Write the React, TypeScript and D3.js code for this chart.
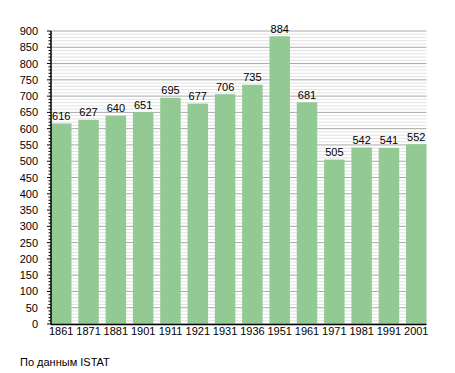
import React from "react";
import * as d3 from "d3";

const years = ["1861","1871","1881","1901","1911","1921","1931","1936","1951","1961","1971","1981","1991","2001"];
const population = [616,627,640,651,695,677,706,735,884,681,505,542,541,552];
const yTicks = [0,50,100,150,200,250,300,350,400,450,500,550,600,650,700,750,800,850,900];
const footer = "По данным  ISTAT";

export default function App() {
  const W = 455, H = 373;
  const left = 51, right = 426.5, top = 31, bottom = 324;
  const x = d3.scaleBand<string>().domain(years).range([left, right]).paddingInner(0.25).paddingOuter(0).align(0);
  const y = d3.scaleLinear().domain([0, 900]).range([bottom, top]);
  const minor = d3.range(0, 901, 10);
  const font = "'Liberation Sans', Arial, sans-serif";
  return (
    <svg width={W} height={H} style={{ position: "absolute", left: 0, top: 0, background: "#fff" }} fontFamily={font}>
      {minor.map(v => (
        <line key={"g"+v} x1={left} x2={right} y1={y(v)} y2={y(v)}
          stroke={v % 50 === 0 ? "#a8a8a8" : "#e2e2e2"} strokeWidth={1} />
      ))}
      {years.map((yr, i) => (
        <rect key={yr} x={x(yr)} y={y(population[i])} width={x.bandwidth()} height={bottom - y(population[i])} fill="#93c993" />
      ))}
      {years.map((yr, i) => (
        <text key={"v"+yr} x={(x(yr) as number) + x.bandwidth() / 2} y={y(population[i]) - 3.5}
          textAnchor="middle" fontSize={11} fill="#000">{population[i]}</text>
      ))}
      {minor.map(v => (
        <line key={"t"+v} x1={v % 50 === 0 ? left - 4 : left - 2.5} x2={left} y1={y(v)} y2={y(v)} stroke="#000" strokeWidth={1} />
      ))}
      <line x1={left} x2={left} y1={top} y2={bottom + 0.5} stroke="#000" strokeWidth={1.5} />
      <line x1={left} x2={right} y1={bottom + 0.5} y2={bottom + 0.5} stroke="#000" strokeWidth={1.5} />
      {yTicks.map(v => (
        <text key={"l"+v} x={38} y={y(v) + 4} textAnchor="end" fontSize={11} fill="#000">{v}</text>
      ))}
      {years.map(yr => (
        <text key={"x"+yr} x={(x(yr) as number) + x.bandwidth() / 2} y={335} textAnchor="middle" fontSize={11} fill="#000">{yr}</text>
      ))}
      <text x={20} y={366} fontSize={11} fill="#000">{footer}</text>
    </svg>
  );
}
